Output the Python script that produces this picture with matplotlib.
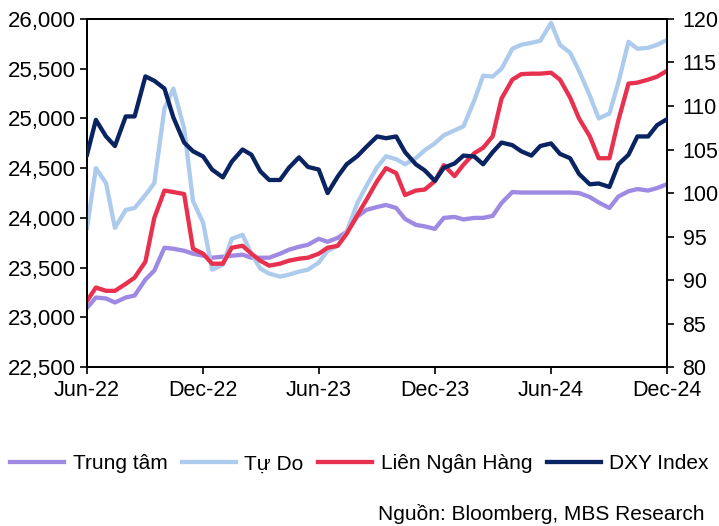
import numpy as np
import pandas as pd
import matplotlib
matplotlib.use('Agg')
import matplotlib.pyplot as plt
import matplotlib.ticker as mticker
import matplotlib.dates as mdates

plt.rcParams['font.family'] = ['Liberation Sans', 'DejaVu Sans']

# semi-monthly readings, Jun-22 .. Dec-24
dates = pd.date_range('2022-06-01', '2024-12-01', freq='SMS')

trung_tam = [23095, 23200, 23190, 23150, 23200, 23220, 23380, 23470, 23700, 23690,
             23670, 23640, 23620, 23600, 23610, 23620, 23630, 23600, 23600, 23600,
             23640, 23680, 23710, 23730, 23790, 23760, 23800, 23860, 24015, 24080,
             24110, 24130, 24100, 23990, 23930, 23915, 23890, 24000, 24010, 23985,
             24000, 24000, 24020, 24150, 24260, 24255, 24255, 24255, 24255, 24255,
             24255, 24250, 24210, 24155, 24100, 24215, 24268, 24290, 24275, 24300,
             24340]
tu_do = [23900, 24500, 24350, 23900, 24080, 24100, 24230, 24350, 25100, 25300,
         24900, 24170, 23950, 23480, 23530, 23790, 23830, 23640, 23490, 23440,
         23410, 23430, 23460, 23480, 23550, 23670, 23720, 23860, 24150, 24320,
         24510, 24620, 24590, 24540, 24600, 24680, 24750, 24830, 24880, 24920,
         25180, 25430, 25420, 25500, 25700, 25740, 25760, 25780, 25960, 25740,
         25660, 25480, 25230, 25000, 25050, 25360, 25770, 25700, 25710, 25740,
         25790]
lien_ngan_hang = [23166, 23300, 23267, 23267, 23337, 23400, 23560, 24000, 24275, 24260,
                  24240, 23690, 23640, 23540, 23540, 23700, 23720, 23640, 23570, 23520,
                  23540, 23570, 23590, 23600, 23640, 23700, 23720, 23840, 24030, 24180,
                  24370, 24500, 24450, 24230, 24275, 24285, 24370, 24530, 24420, 24535,
                  24650, 24705, 24820, 25200, 25390, 25445, 25450, 25450, 25460, 25390,
                  25210, 25000, 24820, 24600, 24600, 24980, 25350, 25360, 25390, 25420,
                  25480]
dxy = [104.4, 108.4, 106.5, 105.4, 108.8, 108.8, 113.4, 112.9, 112.0, 108.7,
       105.8, 104.8, 104.2, 102.7, 101.8, 103.6, 105.0, 104.4, 102.5, 101.5,
       101.5, 102.9, 104.1, 103.0, 102.7, 100.0, 101.9, 103.3, 104.25, 105.3,
       106.5, 106.3, 106.5, 104.7, 103.3, 102.6, 101.4, 102.9, 103.4, 104.3,
       104.2, 103.3, 104.7, 105.8, 105.5, 104.8, 104.3, 105.4, 105.7, 104.5,
       104.0, 102.2, 101.0, 101.1, 100.7, 103.3, 104.4, 106.5, 106.5, 107.8,
       108.5]

fig = plt.figure(figsize=(7.19, 5.26), dpi=100)
ax = fig.add_axes([0.121, 0.302, 0.807, 0.662])
ax2 = ax.twinx()

lw = 3.1
l1, = ax.plot(dates, trung_tam, color='#9e8ae3', lw=lw, label='Trung tâm', zorder=2)
l2, = ax.plot(dates, tu_do, color='#adcbec', lw=lw, label='Tự Do', zorder=3)
l3, = ax.plot(dates, lien_ngan_hang, color='#e8304f', lw=lw, label='Liên Ngân Hàng', zorder=4)
l4, = ax2.plot(dates, dxy, color='#0a2462', lw=lw, label='DXY Index', zorder=5)

ax.set_ylim(22500, 26000)
ax.set_yticks(np.arange(22500, 26001, 500))
ax.yaxis.set_major_formatter(mticker.StrMethodFormatter('{x:,.0f}'))
ax2.set_ylim(80, 120)
ax2.set_yticks(np.arange(80, 121, 5))

ax.set_xlim(pd.Timestamp('2022-06-01'), pd.Timestamp('2024-12-01'))
ax.xaxis.set_major_locator(mdates.MonthLocator(bymonth=[6, 12]))
ax.xaxis.set_major_formatter(mdates.DateFormatter('%b-%y'))

ax.tick_params(axis='y', direction='out', length=5, width=1.2, labelsize=16, pad=3)
ax.tick_params(axis='x', direction='out', length=5, width=1.2, labelsize=15.5, pad=4)
ax2.tick_params(axis='y', direction='out', length=5, width=1.2, labelsize=15.5, pad=6)
for a in (ax, ax2):
    for s in a.spines.values():
        s.set_linewidth(1.3)
        s.set_color('black')

fig.legend(handles=[l1, l2, l3, l4], loc='center', bbox_to_anchor=(0.5, 0.118),
           ncol=4, frameon=False, fontsize=15, handlelength=2.6, handletextpad=0.4,
           columnspacing=0.7)
fig.text(0.98, 0.023, 'Nguồn: Bloomberg, MBS Research', ha='right', va='center', fontsize=15)

fig.savefig('out.png', dpi=100)
